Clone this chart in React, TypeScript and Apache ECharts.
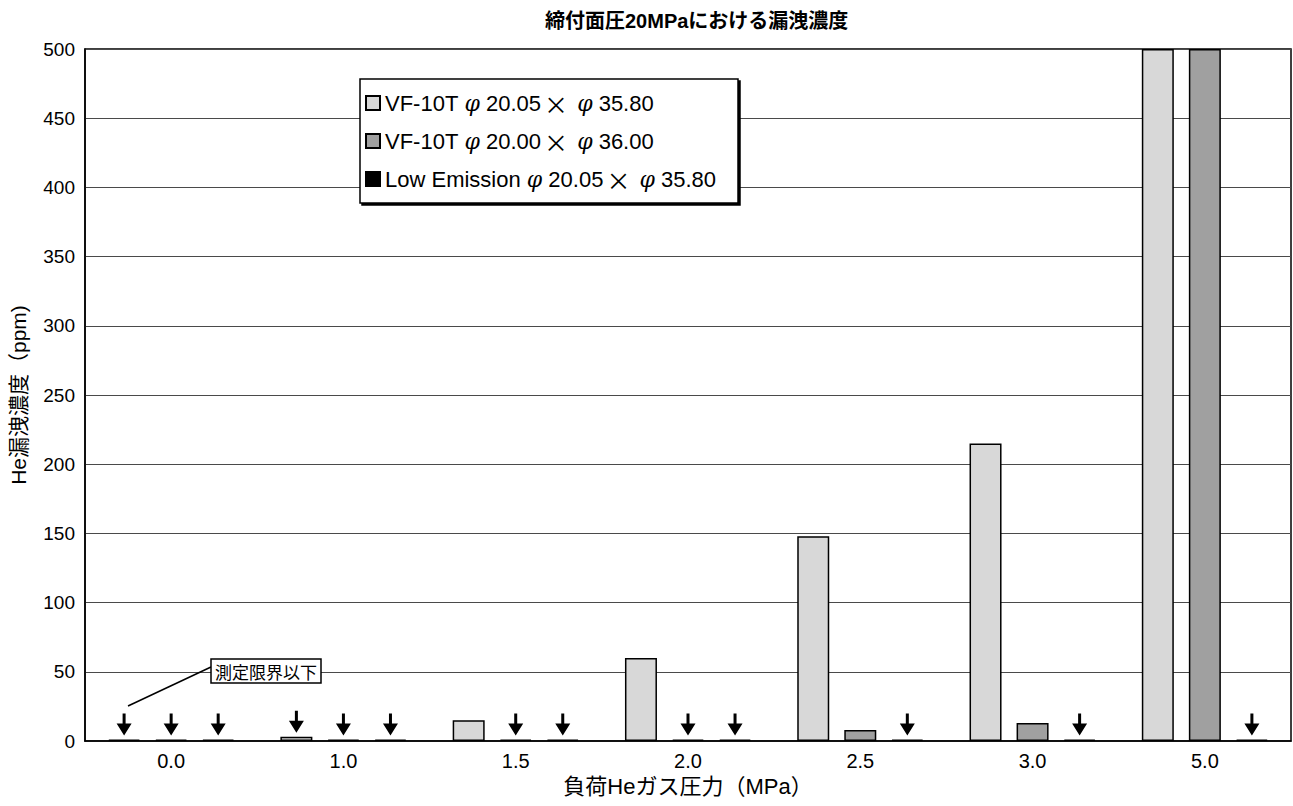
import React, { useEffect, useRef } from "react";
import * as echarts from "echarts";

const categories = ["0.0", "1.0", "1.5", "2.0", "2.5", "3.0", "5.0"];
const seriesNames = [
  "VF-10T φ 20.05× φ 35.80",
  "VF-10T φ 20.00× φ 36.00",
  "Low Emission φ 20.05× φ 35.80",
];
const vf2005 = [1, 3, 15, 60, 148, 215, 500];
const vf2000 = [1, 1, 1, 1, 8, 13, 500];
const lowEmission = [1, 1, 1, 1, 1, 1, 1];
// measurement below detection limit (arrow markers)
const belowVf2005 = [true, true, false, false, false, false, false];
const belowVf2000 = [true, true, true, true, false, false, false];
const belowLow = [true, true, true, true, true, true, true];
const yTicks = { min: 0, max: 500, interval: 50 };

const FONT = "'Liberation Sans', Arial, 'Noto Sans CJK JP', sans-serif";
const ARROW = "path://M6,0 L9,0 L9,10 L15,10 L7.5,22 L0,10 L6,10 Z";

function arrows(values: number[], flags: boolean[]) {
  const out: any[] = [];
  values.forEach((v, i) => {
    if (flags[i]) out.push({ coord: [categories[i], v] });
  });
  return out;
}

export default function App() {
  const ref = useRef<HTMLDivElement>(null);
  useEffect(() => {
    if (!ref.current) return;
    const chart = echarts.init(ref.current, undefined, { renderer: "svg" });
    const colors = ["#d8d8d8", "#a0a0a0", "#000000"];
    const values = [vf2005, vf2000, lowEmission];
    const flags = [belowVf2005, belowVf2000, belowLow];
    chart.setOption({
      animation: false,
      backgroundColor: "#ffffff",
      textStyle: { fontFamily: FONT, color: "#000" },
      title: {
        text: "締付面圧20MPaにおける漏洩濃度",
        left: 540,
        top: 6,
        textStyle: { fontSize: 20, fontWeight: "bold", color: "#000", fontFamily: FONT },
      },
      legend: {
        orient: "vertical",
        left: 365,
        top: 91,
        z: 5,
        data: seriesNames,
        icon: "rect",
        itemWidth: 14,
        itemHeight: 14,
        itemGap: 14,
        padding: 0,
        formatter: (name: string) =>
          name.split("×").join("{x|×}").split("φ").join("{p|φ}"),
        textStyle: {
          fontSize: 22,
          color: "#000",
          fontFamily: FONT,
          lineHeight: 24,
          rich: {
            x: { fontSize: 24, fontFamily: "'Noto Sans CJK JP', sans-serif", color: "#000", padding: [0, 3, 0, 3] },
            p: { fontSize: 22, fontStyle: "italic", fontFamily: "'DejaVu Serif', serif", color: "#000" },
          },
        },
      },
      grid: {
        left: 84,
        right: 2,
        top: 49,
        bottom: 65,
        show: true,
        borderColor: "#000",
        borderWidth: 1.5,
      },
      xAxis: {
        type: "category",
        data: categories,
        name: "負荷Heガス圧力（MPa）",
        nameLocation: "middle",
        nameGap: 34,
        nameTextStyle: { fontSize: 22, color: "#000", fontFamily: FONT, verticalAlign: "top" },
        axisLine: { lineStyle: { color: "#000", width: 1.5 } },
        axisTick: { show: false },
        axisLabel: { fontSize: 20, color: "#000", margin: 10 },
      },
      yAxis: {
        type: "value",
        min: yTicks.min,
        max: yTicks.max,
        interval: yTicks.interval,
        name: "He漏洩濃度（ppm)",
        nameLocation: "middle",
        nameGap: 56,
        nameTextStyle: { fontSize: 21, color: "#000", fontFamily: FONT },
        axisLine: { show: true, lineStyle: { color: "#000", width: 1.5 } },
        axisTick: { show: false },
        axisLabel: { fontSize: 19, color: "#000", margin: 10 },
        splitLine: { lineStyle: { color: "#4a4a4a", width: 1 } },
      },
      series: seriesNames.map((name, k) => ({
        name,
        type: "bar",
        data: values[k],
        barWidth: 32,
        barGap: "47%",
        itemStyle: { color: colors[k], borderColor: "#000", borderWidth: 1.5 },
        markPoint: {
          symbol: ARROW,
          symbolSize: [15, 22],
          symbolOffset: [0, -15],
          itemStyle: { color: "#000", borderWidth: 0 },
          label: { show: false },
          data: arrows(values[k], flags[k]),
        },
      })),
      graphic: [
        {
          type: "rect",
          z: 3,
          shape: { x: 360, y: 79, width: 378, height: 124 },
          style: {
            fill: "#fff",
            stroke: "#000",
            lineWidth: 1.5,
            shadowColor: "#000",
            shadowOffsetX: 2,
            shadowOffsetY: 2,
            shadowBlur: 0,
          },
        },
        {
          type: "line",
          z: 3,
          shape: { x1: 211, y1: 667, x2: 128, y2: 706 },
          style: { stroke: "#000", lineWidth: 1.5 },
        },
        {
          type: "rect",
          z: 3,
          shape: { x: 211, y: 659, width: 110, height: 24 },
          style: { fill: "#fff", stroke: "#000", lineWidth: 1.5 },
        },
        {
          type: "text",
          z: 4,
          x: 266,
          y: 671,
          style: {
            text: "測定限界以下",
            fontSize: 17,
            fontFamily: "'Noto Sans CJK JP', sans-serif",
            fill: "#000",
            align: "center",
            verticalAlign: "middle",
          },
        },
      ],
    });
    return () => chart.dispose();
  }, []);
  return (
    <div
      ref={ref}
      style={{ position: "absolute", left: 0, top: 0, width: 1293, height: 806 }}
    />
  );
}
